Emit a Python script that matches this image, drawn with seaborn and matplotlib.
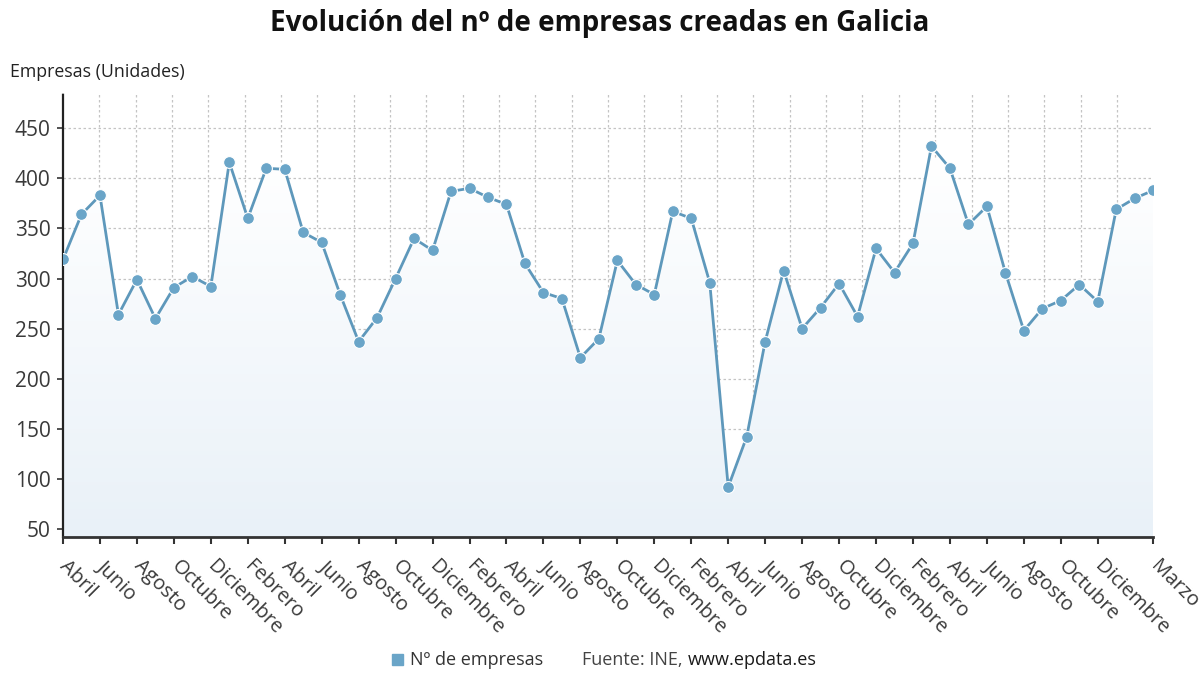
import numpy as np
import pandas as pd
import matplotlib
matplotlib.use("Agg")
import matplotlib.pyplot as plt
import seaborn as sns
from matplotlib.patches import Rectangle
from matplotlib.colors import LinearSegmentedColormap

# Monthly companies created in Galicia, April (year 1) .. March (year 6)
month_names = ["Enero", "Febrero", "Marzo", "Abril", "Mayo", "Junio", "Julio",
               "Agosto", "Septiembre", "Octubre", "Noviembre", "Diciembre"]
start_month = 3  # Abril
empresas = [319, 364, 383, 264, 299, 260, 291, 302, 292, 416,
            360, 410, 409, 346, 336, 284, 237, 261, 300, 340,
            328, 387, 390, 381, 374, 315, 286, 280, 221, 240,
            318, 294, 284, 367, 360, 296, 92, 142, 237, 308,
            250, 271, 295, 262, 330, 306, 335, 432, 410, 354,
            372, 306, 248, 270, 278, 294, 277, 369, 380, 388]

n = len(empresas)
mes = [month_names[(start_month + i) % 12] for i in range(n)]
df = pd.DataFrame({"pos": range(n), "mes": mes, "empresas": empresas})

tick_pos = list(range(0, n - 3, 2)) + [n - 1]
tick_labels = [mes[i] for i in tick_pos]

sns.set_style("white")
plt.rcParams["font.family"] = ["Open Sans", "DejaVu Sans"]

line_color = "#5e98bb"
marker_color = "#6aa5c8"
ymin, ymax = 42, 485

fig = plt.figure(figsize=(12, 6.75), dpi=100)
ax = fig.add_axes([0.0525, 0.2044, 0.9085, 0.6576])

# gradient area under the line
poly = ax.fill_between(df["pos"], df["empresas"], ymin, color="none", lw=0)
cmap = LinearSegmentedColormap.from_list("area", ["#ffffff", "#e9f1f8"])
grad = np.linspace(0, 1, 256).reshape(-1, 1)
im = ax.imshow(grad, cmap=cmap, aspect="auto", origin="upper",
               extent=[0, n - 1, ymin, 420], zorder=1)
im.set_clip_path(poly.get_paths()[0], transform=ax.transData)

sns.lineplot(data=df, x="pos", y="empresas", ax=ax, color=line_color,
             linewidth=2.0, marker="o", markersize=8.5,
             markerfacecolor=marker_color, markeredgecolor="white",
             markeredgewidth=0.8, zorder=3)

ax.set_xlim(0, n - 1)
ax.set_ylim(ymin, ymax)
ax.set_yticks(range(50, 451, 50))
ax.set_xticks(tick_pos)
ax.set_xticklabels(tick_labels, rotation=-45, ha="left", va="center",
                   rotation_mode="anchor", fontsize=14.5, color="#3a3a3a")
ax.set_xticks(np.linspace(0, n - 1, 31), minor=True)
ax.tick_params(axis="y", labelsize=15, labelcolor="#3a3a3a", length=4,
               width=1.2, color="#333333", left=True, pad=5)
ax.tick_params(axis="x", which="major", length=5, width=1.5,
               color="#333333", bottom=True, pad=14)
ax.tick_params(axis="x", which="minor", length=0)

ax.grid(axis="y", which="major", color="#c4c4c4", linestyle=(0, (2, 2)),
        linewidth=0.9)
ax.grid(axis="x", which="minor", color="#c4c4c4", linestyle=(0, (2, 2)),
        linewidth=0.9)
ax.grid(axis="x", which="major", visible=False)

for side in ["top", "right"]:
    ax.spines[side].set_visible(False)
ax.spines["left"].set_linestyle((0, (1, 1)))
ax.spines["left"].set_color("#222222")
ax.spines["left"].set_linewidth(1.6)
ax.spines["bottom"].set_color("#333333")
ax.spines["bottom"].set_linewidth(2.0)

ax.set_xlabel("")
ax.set_ylabel("")

fig.text(0.5, 0.965, "Evolución del nº de empresas creadas en Galicia",
         ha="center", va="center", fontsize=20, fontweight="bold",
         color="#111111")
fig.text(0.008, 0.893, "Empresas (Unidades)", ha="left", va="center",
         fontsize=12.8, color="#222222")

# legend + source line
fig.patches.append(Rectangle((392 / 1200, 0.0148), 11 / 1200, 11 / 675,
                             transform=fig.transFigure, color=marker_color))
fig.text(410 / 1200, 0.022, "Nº de empresas", ha="left", va="center",
         fontsize=13, color="#333333")
fuente = fig.text(582 / 1200, 0.022, "Fuente: INE,", ha="left", va="center",
                  fontsize=13, color="#444444")
fig.canvas.draw()
bb = fuente.get_window_extent(fig.canvas.get_renderer())
fig.text((bb.x1 + 5) / 1200, 0.022, "www.epdata.es", ha="left", va="center",
         fontsize=13, color="#1a1a1a")

fig.savefig("out.png", dpi=100)
